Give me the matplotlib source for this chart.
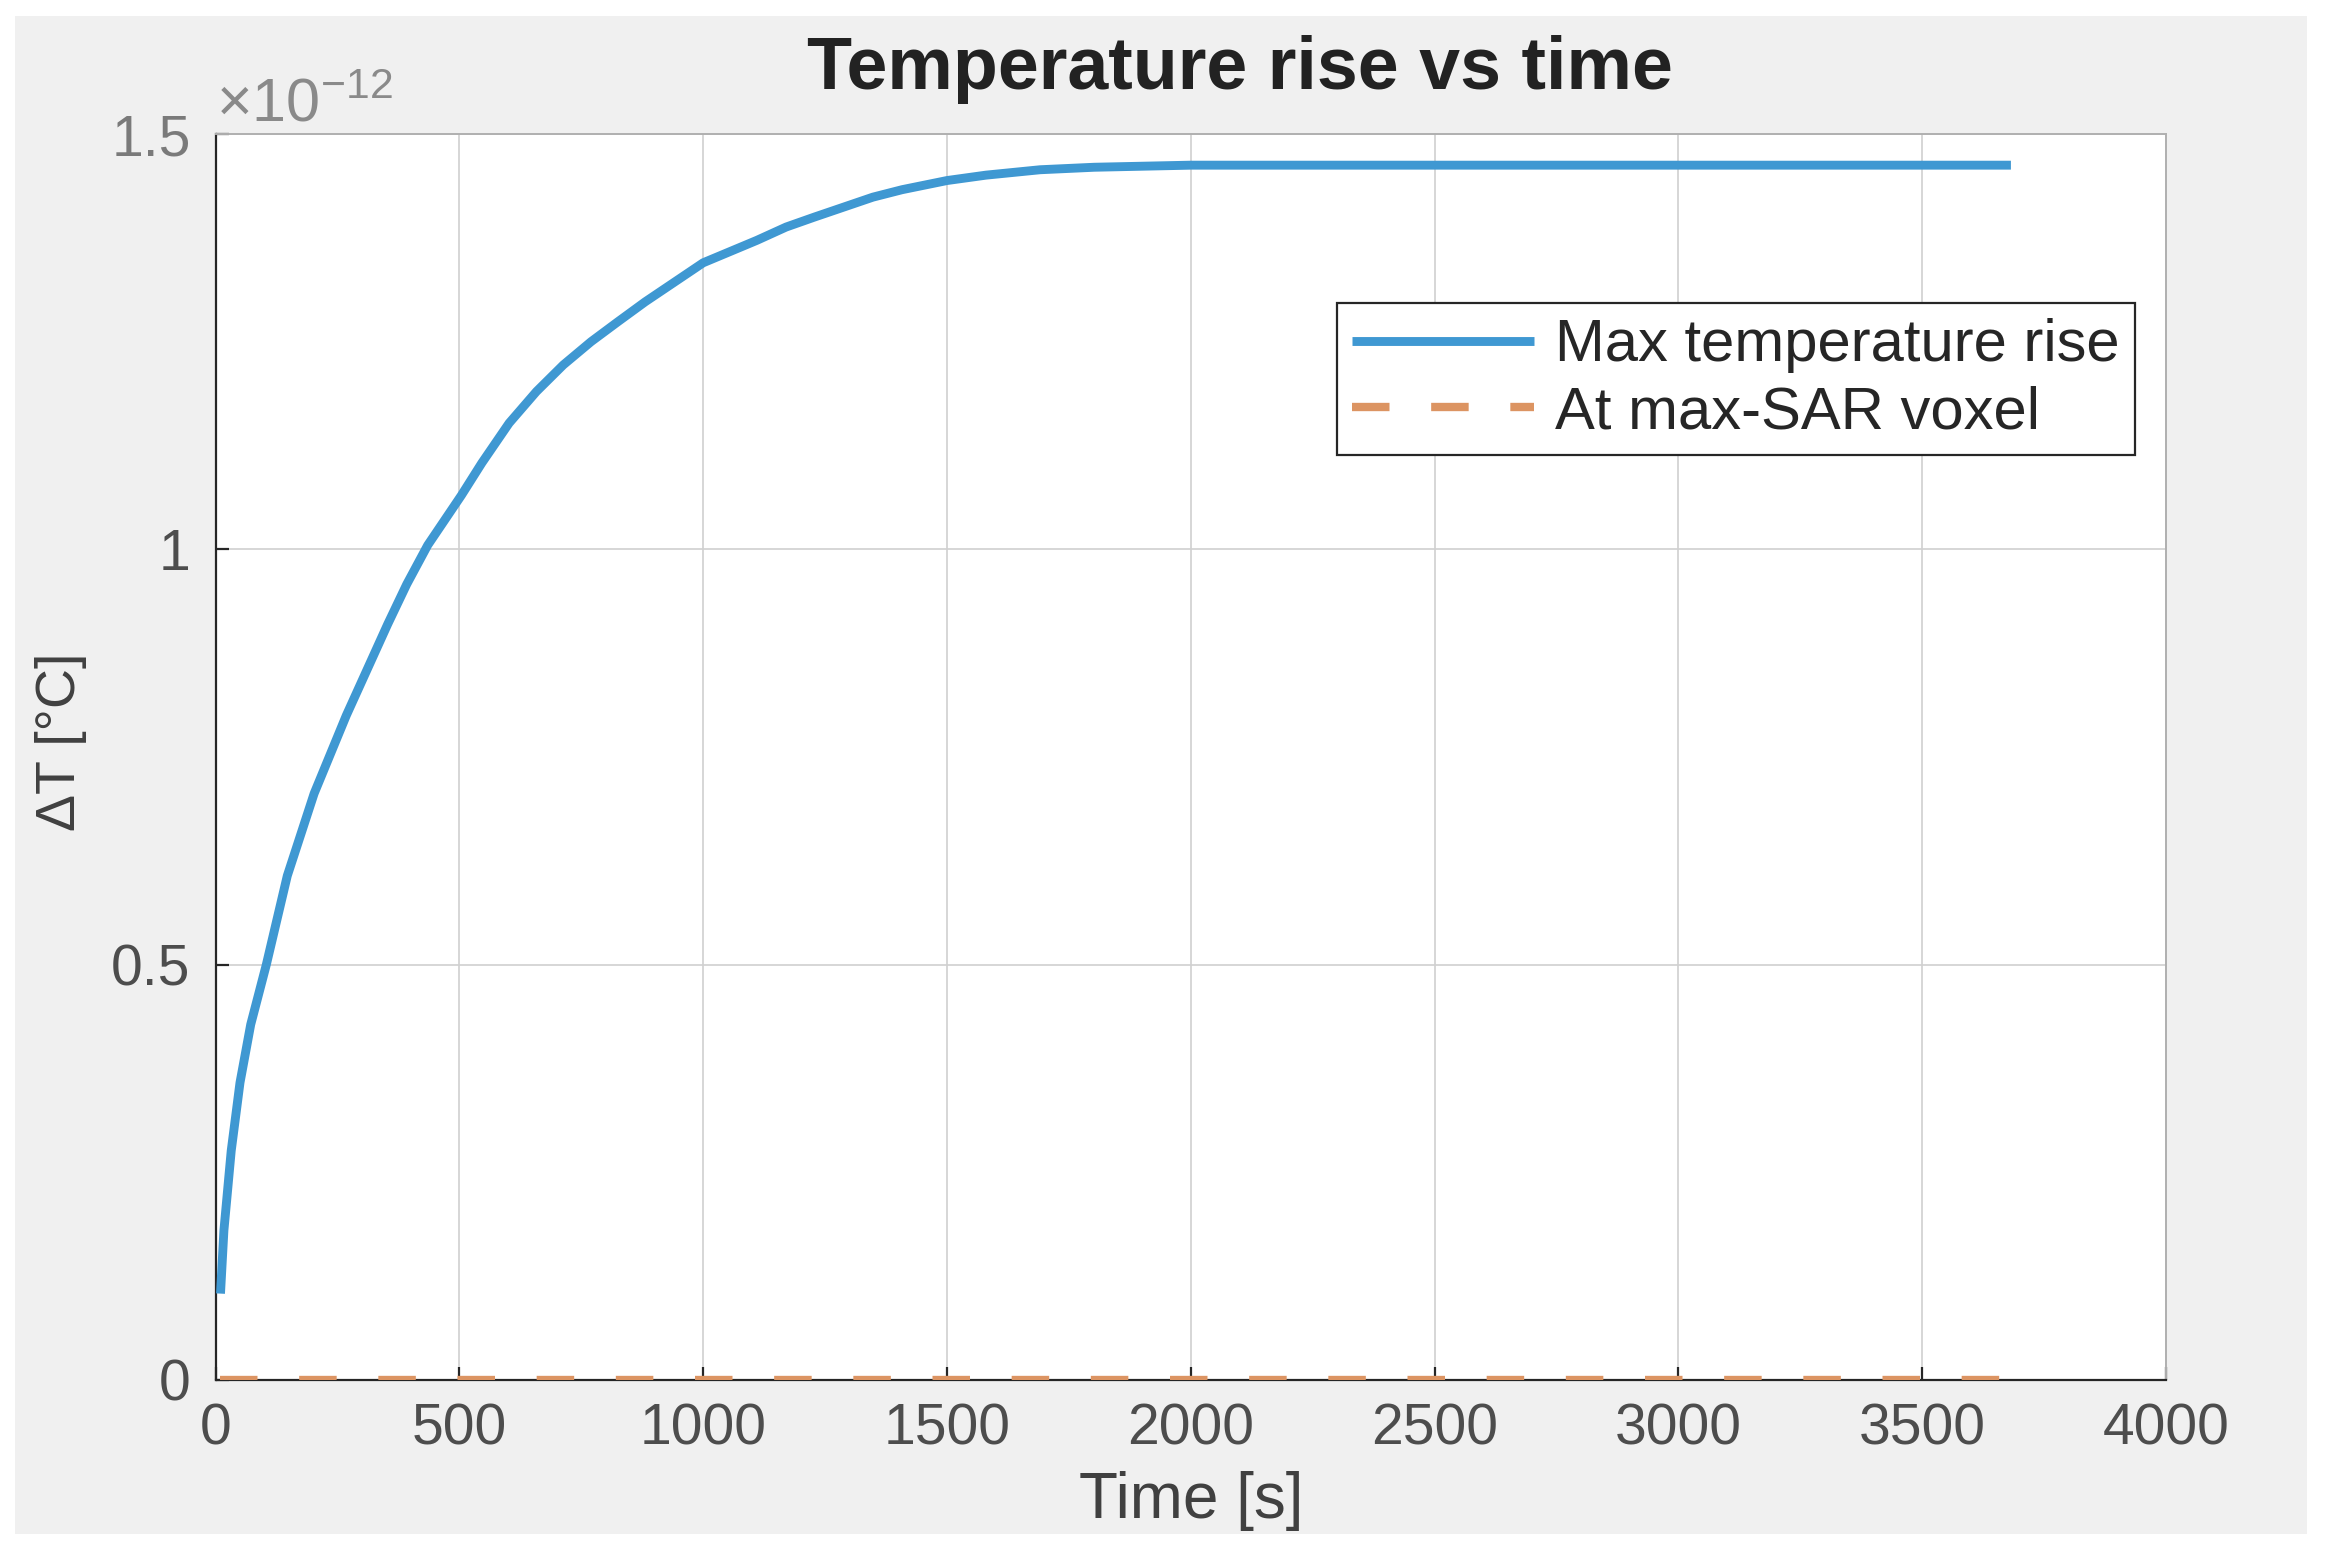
import matplotlib
matplotlib.use("Agg")
import matplotlib.pyplot as plt
from matplotlib.patches import Rectangle

plt.rcParams['font.family'] = ['Liberation Sans', 'DejaVu Sans']
plt.rcParams['mathtext.fontset'] = 'custom'
plt.rcParams['mathtext.rm'] = 'Liberation Sans'

# values (dT in units of 1e-12 degC)
time_s = [10, 17, 32, 50, 72, 104, 147, 202, 268, 353, 392, 435, 504, 546,
          602, 658, 713, 770, 825, 881, 1000, 1110, 1170, 1228, 1348, 1408,
          1500, 1580, 1691, 1802, 2000, 2500, 3000, 3500, 3682]
dT_max = [0.104, 0.18, 0.276, 0.358, 0.428, 0.50, 0.607, 0.706, 0.80, 0.91,
          0.958, 1.005, 1.065, 1.104, 1.152, 1.19, 1.222, 1.25, 1.274, 1.298,
          1.345, 1.372, 1.388, 1.40, 1.424, 1.433, 1.444, 1.4505, 1.457, 1.46,
          1.4625, 1.4625, 1.4625, 1.4625, 1.4625]
dT_sar = [0.0] * len(time_s)

xticks = [0, 500, 1000, 1500, 2000, 2500, 3000, 3500, 4000]
yticks = [0, 0.5, 1, 1.5]
ytick_labels = ['0', '0.5', '1', '1.5']

blue = '#3f98d2'
orange = '#dc9462'
tick_col = '#4d4d4d'

fig = plt.figure(figsize=(11.655, 7.765), dpi=200, facecolor='white')
# grey panel behind the axes
fig.patches.append(Rectangle((15 / 2331, 1 - 1534 / 1553), (2307 - 15) / 2331,
                             (1534 - 16) / 1553, transform=fig.transFigure,
                             facecolor='#f0f0f0', edgecolor='none', zorder=-10))

ax = fig.add_axes([0.0925, 0.1114, 0.8367, 0.8023])
ax.set_facecolor('white')

ax.plot(time_s, dT_max, color=blue, linewidth=3.2, label='Max temperature rise',
        solid_capstyle='butt', solid_joinstyle='round', zorder=3)
ax.plot(time_s, dT_sar, color=orange, linewidth=3.0, linestyle=(0, (4.5, 5.0)),
        label='At max-SAR voxel', dash_capstyle='butt', zorder=3)

ax.set_xlim(0, 4000)
ax.set_ylim(0, 1.5)
ax.set_xticks(xticks)
ax.set_yticks(yticks)
ax.set_yticklabels(ytick_labels)
ax.grid(True, color='#d0d0d0', linewidth=0.6)
ax.set_axisbelow(True)

ax.tick_params(direction='in', length=4.8, width=0.8, color='#262626',
               labelsize=20.5, labelcolor=tick_col)
ax.tick_params(axis='x', pad=8)
ax.tick_params(axis='y', pad=9)
ax.get_yticklabels()[-1].set_color('#7a7a7a')
for side in ['left', 'bottom']:
    ax.spines[side].set_color('#262626')
    ax.spines[side].set_linewidth(0.8)
for side in ['top', 'right']:
    ax.spines[side].set_color('#b0b0b0')
    ax.spines[side].set_linewidth(0.7)

ax.text(0.0, 1.0, '×10$^{\\mathregular{-12}}$', transform=ax.transAxes,
        ha='left', va='bottom', fontsize=22, color='#8a8a8a')

ax.set_xlabel('Time [s]', fontsize=23, color='#404040', va='center')
ax.xaxis.set_label_coords(0.5, -0.097)
ax.set_ylabel('ΔT [°C]', fontsize=20, color='#404040', va='center')
ax.yaxis.set_label_coords(-0.0793, 0.512)

fig.text(1240 / 2331, 1 - 70 / 1553, 'Temperature rise vs time', ha='center',
         va='center', fontsize=26.5, fontweight='bold', color='#222222')

leg = ax.legend(loc='upper right', bbox_to_anchor=(0.984, 0.864),
                borderaxespad=0, fontsize=21.5, handlelength=3.05,
                handletextpad=0.35, labelspacing=0.2, borderpad=0.25,
                fancybox=False, framealpha=1, edgecolor='#262626')
leg.get_frame().set_linewidth(0.8)
for t in leg.get_texts():
    t.set_color('#262626')

fig.savefig('out.png', dpi=200, facecolor='white')
